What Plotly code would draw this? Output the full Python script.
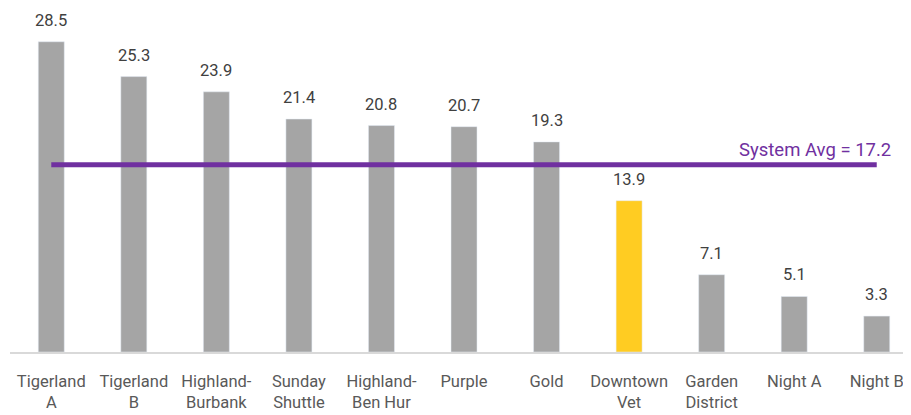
import plotly.graph_objects as go

categories = ["Tigerland<br>A", "Tigerland<br>B", "Highland-<br>Burbank", "Sunday<br>Shuttle",
              "Highland-<br>Ben Hur", "Purple", "Gold", "Downtown<br>Vet", "Garden<br>District",
              "Night A", "Night B"]
values = [28.5, 25.3, 23.9, 21.4, 20.8, 20.7, 19.3, 13.9, 7.1, 5.1, 3.3]
highlight = "Downtown<br>Vet"
system_avg = 17.2

GRAY = "#A5A5A5"
GOLD = "#FFCC22"
PURPLE = "#7030A0"
FONT = "Roboto"

x = list(range(len(categories)))
colors = [GOLD if c == highlight else GRAY for c in categories]

fig = go.Figure()
fig.add_trace(go.Bar(
    x=x, y=values, marker_color=colors, width=0.315, hoverinfo="skip",
))
for xi, v in zip(x, values):
    fig.add_annotation(
        x=xi, y=v, xref="x", yref="y", text=f"{v:.1f}", showarrow=False,
        xanchor="center", yanchor="bottom", yshift=10,
        font=dict(family=FONT, size=16.5, color="#404040"),
    )
fig.add_trace(go.Scatter(
    x=[x[0], x[-1]], y=[system_avg, system_avg], mode="lines",
    line=dict(color=PURPLE, width=5), hoverinfo="skip",
))
fig.add_annotation(
    x=x[-1] + 0.2, y=system_avg, xref="x", yref="y",
    text=f"System Avg = {system_avg}", showarrow=False,
    xanchor="right", yanchor="bottom", yshift=2,
    font=dict(family=FONT, size=18.5, color=PURPLE),
)

fig.update_layout(
    width=903, height=407,
    margin=dict(l=2, r=0, t=0, b=63),
    plot_bgcolor="white", paper_bgcolor="white",
    showlegend=False,
    font=dict(family=FONT),
    xaxis=dict(
        range=[-0.5, 10.415], tickmode="array", tickvals=x, ticktext=categories,
        showgrid=False, zeroline=False, showline=True, linecolor="#D9D9D9", linewidth=1.5,
        tickfont=dict(family=FONT, size=16.5, color="#595959"), ticks="", ticklabelstandoff=13,
    ),
    yaxis=dict(range=[0, 31.6], visible=False),
)

fig.write_html("out.html")
